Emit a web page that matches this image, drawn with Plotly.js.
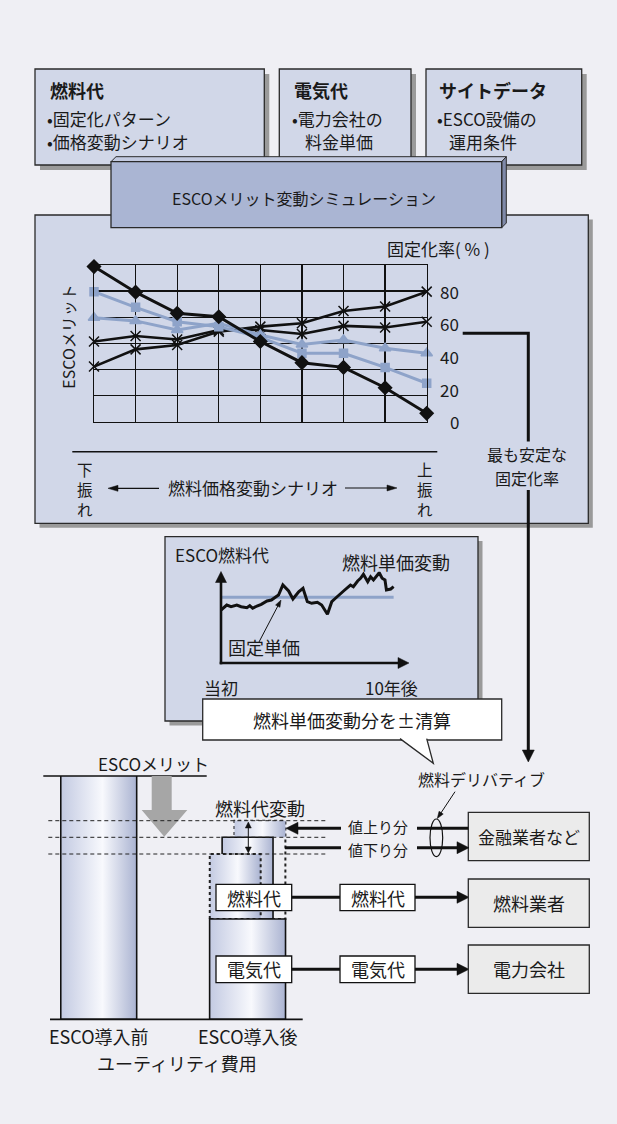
<!DOCTYPE html>
<html><head><meta charset="utf-8">
<script src="https://cdn.plot.ly/plotly-3.0.1.min.js"></script>
<style>html,body{margin:0;padding:0;background:#efeff4;}</style>
</head><body><div id="chart" style="width:617px;height:1124px;"></div>
<script>
// ---------------- data ----------------
// ESCOメリット変動シミュレーション (燃料価格変動シナリオ: 下振れ → 上振れ)
const scenarios = [0, 1, 2, 3, 4, 5, 6, 7, 8];
const fixRates = [0, 20, 40, 60, 80];           // 固定化率(%)
const merit0  = [5.94, 4.96, 4.15, 4.02, 3.07, 2.26, 2.08, 1.30, 0.32];
const merit20 = [4.98, 4.38, 3.83, 3.64, 3.23, 2.62, 2.62, 2.08, 1.47];
const merit40 = [3.98, 3.86, 3.51, 3.77, 3.32, 2.96, 3.13, 2.81, 2.62];
const merit60 = [3.07, 3.28, 3.15, 3.51, 3.51, 3.36, 3.67, 3.61, 3.83];
const merit80 = [2.11, 2.77, 2.94, 3.45, 3.64, 3.77, 4.24, 4.41, 4.98];

// ESCO燃料代 (当初 → 10年後, months)
const months = [0,4,7,11,14,18,20,22,25,28,32,35,40,43,47,50,54,57,60,63,67,70,74,77,79,83,86,90,92,95,97,99,102,104,106,110,112,114,115,118,120];
const fuelPrice = [53,58,56.3,58,56.3,55.3,57.3,54.7,57,58.7,62,63,68,78,72,64,71.3,74.7,61.3,59.7,60.7,58,48.7,61.3,64,68.7,73,78,76.3,82,84.7,88.7,81.3,86.3,83,90.3,84.7,83,73,74,76.3];
const fixedPrice = 65.7;

// ユーティリティ費用
const costCats = ['ESCO導入前', 'ESCO導入後'];
const costBefore = 100;
const elecCost = 41.2;
const fuelFixed = 33.6;
const fuelUp = 40.4;
const fuelDown = 26.7;

// ---------------- layout helpers ----------------
const W = 617, H = 1124;
const X = v => v / W;
const Y = v => 1 - v / H;
const FONT = 'Noto Sans CJK JP, Noto Sans, sans-serif';
const INK = '#1a1a1a';
const PANEL = '#d1d7e8';
const SHADOW = '#9a9a9a';
const BLUE = '#8ea3c9';

const shapes = [];
const anns = [];
function rect(x0, y0, x1, y1, fill, lc, lw, layer, dash) {
  shapes.push({type:'rect', xref:'paper', yref:'paper', x0:X(x0), x1:X(x1), y0:Y(y1), y1:Y(y0),
    fillcolor: fill || 'rgba(0,0,0,0)', line:{color: lc || 'rgba(0,0,0,0)', width: lw || 0, dash: dash || 'solid'},
    layer: layer || 'below'});
}
function seg(x0, y0, x1, y1, lw, color, layer, dash) {
  shapes.push({type:'line', xref:'paper', yref:'paper', x0:X(x0), x1:X(x1), y0:Y(y0), y1:Y(y1),
    line:{color: color || '#111', width: lw, dash: dash || 'solid'}, layer: layer || 'below'});
}
function path(pts, fill, lc, lw, layer, close) {
  let d = pts.map((p, i) => (i ? 'L' : 'M') + X(p[0]).toFixed(5) + ',' + Y(p[1]).toFixed(5)).join(' ');
  if (close !== false) d += ' Z';
  shapes.push({type:'path', xref:'paper', yref:'paper', path:d, fillcolor: fill || 'rgba(0,0,0,0)',
    line:{color: lc || 'rgba(0,0,0,0)', width: lw || 0}, layer: layer || 'below'});
}
function txt(x, y, s, size, opts) {
  anns.push(Object.assign({xref:'paper', yref:'paper', x:X(x), y:Y(y), text:s, showarrow:false,
    xanchor:'center', yanchor:'middle', font:{family:FONT, size:size, color:INK}}, opts || {}));
}
// arrow drawn with shapes: line from (x1,y1) to tip (x2,y2) and a filled head
function head(tx, ty, ux, uy, len, hw) {
  const bx = tx - ux * len, by = ty - uy * len;
  path([[tx, ty], [bx - uy * hw, by + ux * hw], [bx + uy * hw, by - ux * hw]], '#111', '#111', 0.5, 'above');
}
function arrow(x1, y1, x2, y2, w, len, hw, both) {
  const dx = x2 - x1, dy = y2 - y1, L = Math.hypot(dx, dy), ux = dx / L, uy = dy / L;
  const sx = both ? x1 + ux * len * 0.8 : x1, sy = both ? y1 + uy * len * 0.8 : y1;
  seg(sx, sy, x2 - ux * len * 0.8, y2 - uy * len * 0.8, w, '#111', 'above');
  head(x2, y2, ux, uy, len, hw);
  if (both) head(x1, y1, -ux, -uy, len, hw);
}
const domX = (a, b) => [a / W, b / W];
const domY = (top, bottom) => [1 - bottom / H, 1 - top / H];

// ---------------- top boxes ----------------
function box(x0, y0, x1, y1) {
  rect(x0 + 5, y0 + 5, x1 + 5, y1 + 5, SHADOW);
  rect(x0, y0, x1, y1, PANEL, '#2a2a2a', 1.3);
}
box(35, 69, 264.3, 165);
box(279.3, 69, 411, 165);
box(426, 69, 581.7, 165);
txt(47.7, 90, '<b>燃料代</b>', 18, {xanchor:'left'});
txt(45, 118.3, '•固定化パターン', 17, {xanchor:'left'});
txt(45, 141, '•価格変動シナリオ', 17, {xanchor:'left'});
txt(292, 90, '<b>電気代</b>', 18, {xanchor:'left'});
txt(290, 118.3, '•電力会社の', 17, {xanchor:'left'});
txt(303, 141, '料金単価', 17, {xanchor:'left'});
txt(437, 90, '<b>サイトデータ</b>', 18, {xanchor:'left'});
txt(435, 118.3, '•ESCO設備の', 17, {xanchor:'left'});
txt(447, 141, '運用条件', 17, {xanchor:'left'});

// ---------------- big simulation panel ----------------
rect(39.5, 219.5, 592.8, 527.8, SHADOW);
rect(35, 215, 588.3, 523.3, PANEL, '#2a2a2a', 1.3);

// title box with bevel
path([[111,161.7],[116,156.7],[506.3,156.7],[501.7,161.7]], '#c3cae0', '#2a2a2a', 1);
path([[501.7,161.7],[506.3,156.7],[506.3,223],[501.7,227.7]], '#7f89a8', '#2a2a2a', 1);
rect(111, 161.7, 501.7, 227.7, '#aab5d3', '#2a2a2a', 1.3);
txt(304, 198, 'ESCOメリット変動シミュレーション', 16);

txt(439, 249, '固定化率( % )', 17);
txt(68, 336.7, 'ESCOメリット', 16, {textangle:-90});
fixRates.forEach(r => {
  anns.push({xref:'paper', yref:'y2', x:X(461), y:r, text:String(r), showarrow:false,
    xanchor:'right', yanchor:'middle', font:{family:FONT, size:17, color:INK}});
});
seg(72.3, 451.7, 437.3, 451.7, 1.5);
txt(85, 489, '下<br>振<br>れ', 15.5);
txt(425, 489, '上<br>振<br>れ', 15.5);
txt(253, 488, '燃料価格変動シナリオ', 17);
arrow(159, 488.3, 108, 488.3, 1.2, 10, 3);
arrow(345, 488, 397, 488, 1.2, 10, 3);

// connector to 燃料デリバティブ
path([[462.7,333.3],[528.3,333.3],[528.3,441.5]], null, '#111', 3, 'below', false);
txt(527.3, 454, '最も安定な', 16);
txt(527.3, 477.5, '固定化率', 16);
arrow(528.3, 490, 528.3, 762, 3, 12, 6);

// ---------------- fuel-cost panel ----------------
rect(169.5, 541, 482.5, 725.5, SHADOW);
rect(165, 536.7, 478, 721, PANEL, '#2a2a2a', 1.3);
txt(222, 554, 'ESCO燃料代', 17);
txt(396, 561.7, '燃料単価変動', 18);
txt(264, 646.7, '固定単価', 18);
txt(221, 687.7, '当初', 17);
txt(391, 687.7, '10年後', 17);
arrow(221, 664.3, 221, 571.5, 2.6, 11, 5.5);
arrow(219.7, 663, 409, 663, 2.6, 11, 5.5);
arrow(259, 642, 281, 600, 1, 7, 2.5);

// callout
rect(202.7, 699, 501.7, 740, '#ffffff', '#2a2a2a', 1.3);
path([[400,738.6],[433.3,763.3],[426.7,738.6]], '#ffffff', '#2a2a2a', 1.3, 'below', false);
txt(352, 720, '燃料単価変動分を±清算', 18);

// ---------------- bottom diagram ----------------
txt(153.3, 763.3, 'ESCOメリット', 17);
seg(43.3, 776, 206.7, 776, 1.5);
seg(50, 1019.3, 302.7, 1019.3, 1.8, '#111', 'above');
path([[151.7,776],[171.7,776],[171.7,810],[187.3,810],[164.3,836.7],[141.7,810],[151.7,810]], '#a6a6a6', null, 0, 'above');
[820.7, 837.3, 854].forEach(yy => seg(48.3, yy, 326, yy, 1, '#222', 'above', '4px,3px'));
txt(260, 808.3, '燃料代変動', 18);
arrow(248.3, 822, 248.3, 853, 1, 6, 3, true);

// label boxes inside bar
rect(216, 884.3, 291.7, 910.7, '#ffffff', '#111', 1.3, 'above');
rect(216, 956, 291.7, 982.7, '#ffffff', '#111', 1.3, 'above');
txt(253.8, 897.5, '燃料代', 18);
txt(253.8, 969.3, '電気代', 18);
rect(340, 884.3, 415, 910.7, '#ffffff', '#111', 1.3, 'above');
rect(340, 956, 415, 982.7, '#ffffff', '#111', 1.3, 'above');
txt(377.5, 897.5, '燃料代', 18);
txt(377.5, 969.3, '電気代', 18);
seg(291.7, 897.3, 340, 897.3, 3, '#111', 'above');
seg(291.7, 969.3, 340, 969.3, 3, '#111', 'above');
arrow(415, 897.3, 469, 897.3, 3, 12, 6);
arrow(415, 969.3, 469, 969.3, 3, 12, 6);

// right boxes
[[812.3, 860.7, '金融業者など', 17], [879, 927.3, '燃料業者', 18], [945, 993.3, '電力会社', 18]].forEach(b => {
  rect(468.3, b[0], 589.3, b[1], '#ebebeb', '#2a2a2a', 1.3, 'above');
  txt(528.8, (b[0] + b[1]) / 2, b[2], b[3]);
});

// derivative flows
txt(378.3, 826.5, '値上り分', 15);
txt(378.3, 849, '値下り分', 15);
seg(417, 828.3, 468.3, 828.3, 3, '#111', 'above');
arrow(341, 828.3, 286, 828.3, 3, 12, 6);
seg(285, 847.7, 341, 847.7, 3, '#111', 'above');
arrow(417, 847.7, 469, 847.7, 3, 12, 6);
shapes.push({type:'circle', xref:'paper', yref:'paper', x0:X(430), x1:X(442.7), y0:Y(856.7), y1:Y(819),
  line:{color:'#111', width:1.2}, fillcolor:'rgba(0,0,0,0)', layer:'above'});
txt(481.3, 779, '燃料デリバティブ', 16);
arrow(455, 791.7, 437.3, 818.5, 1, 7, 2.5);

txt(98.5, 1036, costCats[0], 18);
txt(247.5, 1036, costCats[1], 18);
txt(176.7, 1062.7, 'ユーティリティ費用', 18);

// ---------------- traces ----------------
const traces = [];
function simLine(y, color, sym, size, w) {
  traces.push({x:scenarios, y:y, xaxis:'x', yaxis:'y', type:'scatter', mode:'lines+markers', cliponaxis:false,
    line:{color:color, width:w}, marker:{symbol:sym, size:size, color:color, line:{color:color, width:1.5}}, hoverinfo:'skip'});
}
simLine(merit80, '#111', 'x-thin-open', 10, 2.6);
simLine(merit60, '#111', 'x-thin-open', 10, 2.6);
simLine(merit40, BLUE, 'triangle-up', 10, 3);
simLine(merit20, BLUE, 'square', 8, 3);
simLine(merit0, '#111', 'diamond', 10, 3);

traces.push({x:[months[0], months[months.length - 1]], y:[fixedPrice, fixedPrice], xaxis:'x3', yaxis:'y3',
  type:'scatter', mode:'lines', line:{color:BLUE, width:3}, hoverinfo:'skip'});
traces.push({x:months, y:fuelPrice, xaxis:'x3', yaxis:'y3', type:'scatter', mode:'lines',
  line:{color:'#111', width:3}, hoverinfo:'skip'});

// cost blocks
const BAR_W = 0.51, FUEL_W = 0.342, SHIFT = 0.083;
const GRAD = {type:'horizontal', colorscale:[[0,'#c3cae2'],[0.55,'#f8f9fd'],[1,'#aab3d1']]};
function block(cx, w, y0, y1, lineOpt, filled) {
  const t = {x:[cx - w / 2, cx - w / 2, cx + w / 2, cx + w / 2, cx - w / 2], y:[y0, y1, y1, y0, y0],
    xaxis:'x4', yaxis:'y4', type:'scatter', mode: lineOpt ? 'lines' : 'none', hoverinfo:'skip'};
  if (lineOpt) t.line = lineOpt;
  if (filled) { t.fill = 'toself'; t.fillcolor = '#e6e9f3'; t.fillgradient = GRAD; }
  traces.push(t);
}
const solid = {color:'#111', width:1.6};
const dotted = {color:'#222', width:2, dash:'dot'};
block(0, BAR_W, 0, costBefore, solid, true);
block(1 + SHIFT, FUEL_W, elecCost, elecCost + fuelUp, dotted, false);
block(1 + SHIFT, FUEL_W, elecCost + fuelFixed, elecCost + fuelUp, null, true);
block(1, FUEL_W, elecCost, elecCost + fuelFixed, solid, true);
block(1 - SHIFT, FUEL_W, elecCost, elecCost + fuelDown, dotted, true);
block(1, BAR_W, 0, elecCost, solid, true);

// ---------------- layout ----------------
const hidden = {visible:false, fixedrange:true};
const layout = {
  width: W, height: H, margin:{l:0, r:0, t:0, b:0},
  paper_bgcolor:'#efeff4', plot_bgcolor:'rgba(0,0,0,0)', showlegend:false,
  font:{family:FONT, color:INK},
  xaxis:{domain:domX(94, 426.7), range:[0, 8], dtick:1, tick0:0, showgrid:true, gridcolor:'#111', gridwidth:1.3,
    showline:true, mirror:true, linecolor:'#111', linewidth:1.3, zeroline:false, showticklabels:false, ticks:'', fixedrange:true},
  yaxis:{domain:domY(265, 421.7), range:[0, 6], dtick:1, tick0:0, showgrid:true, gridcolor:'#111', gridwidth:1.3,
    showline:true, mirror:true, linecolor:'#111', linewidth:1.3, zeroline:false, showticklabels:false, ticks:'', fixedrange:true},
  yaxis2:Object.assign({overlaying:'y', side:'right', range:[0, 96]}, hidden),
  xaxis3:Object.assign({domain:domX(221, 408), range:[0, 130], anchor:'y3'}, hidden),
  yaxis3:Object.assign({domain:domY(571.7, 663), range:[0, 91.3], anchor:'x3'}, hidden),
  xaxis4:Object.assign({domain:domX(24.3, 322), range:[-0.5, 1.5], anchor:'y4'}, hidden),
  yaxis4:Object.assign({domain:domY(776, 1019.3), range:[0, 100], anchor:'x4'}, hidden),
  shapes: shapes,
  annotations: anns
};
Plotly.newPlot('chart', traces, layout, {staticPlot:true, displayModeBar:false});
</script>
</body></html>
